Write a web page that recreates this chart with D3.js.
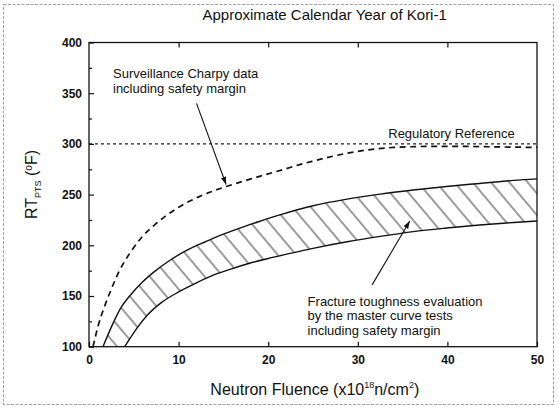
<!DOCTYPE html>
<html>
<head>
<meta charset="utf-8">
<script src="https://cdn.jsdelivr.net/npm/d3@7"></script>
<style>
  body { margin: 0; background: #fff; }
  svg { display: block; font-family: "Liberation Sans", Arial, sans-serif; }
</style>
</head>
<body>
<svg id="chart" width="559" height="410"></svg>
<script>
// values (fluence in 1e18 n/cm2, RT_PTS in F)
var charpyX = [0.45, 1.0, 1.75, 2.5, 3.4, 4.7, 5.8, 7.3, 8.5, 10, 12.3, 14, 15.5, 17.7, 20, 21.8, 23.5, 25, 27.3, 31, 34, 38, 42, 46, 50];
var charpyY = [100, 120, 140, 157, 175, 194, 207, 220, 228.5, 237.5, 248, 254, 258.5, 264.5, 270.5, 275, 279.5, 283, 288, 294, 296.5, 297.5, 297.5, 297, 296.5];

var upperX = [1.56, 2.68, 3.6, 4.54, 6.0, 7.3, 9.0, 11, 13, 15, 17, 19, 21.3, 25, 28.8, 32.5, 36.2, 39.9, 43.6, 47.4, 50];
var upperY = [100, 123, 139, 150, 164, 174, 185, 195.5, 203.5, 211, 217.5, 223.5, 230, 239, 245.5, 250.5, 254.5, 258, 261, 264, 265.5];

var lowerX = [3.98, 5.5, 6.5, 8, 10, 12, 14, 16, 18, 20, 22.2, 25, 28.8, 32.5, 36.2, 39.9, 43.6, 47.4, 50];
var lowerY = [100, 120, 131, 143, 154, 163, 171, 177, 182.5, 187, 191.5, 197, 203.5, 208.8, 213.5, 217, 220, 222.5, 224];

var regulatoryX = [0, 50];
var regulatoryY = [300, 300];

var xTicks = [0, 10, 20, 30, 40, 50];
var topTicks = [10, 20, 30, 40];
var yTicks = [100, 150, 200, 250, 300, 350, 400];
var yMinor = [125, 175, 225, 275, 325, 375];

var svg = d3.select("#chart");

var x = d3.scaleLinear().domain([0, 50]).range([89, 537]);
var y = d3.scaleLinear().domain([100, 400]).range([346.7, 42.5]);

var pts = function(xs, ys) { return xs.map(function(v, i) { return [v, ys[i]]; }); };

var lnMkr = d3.line()
  .curve(d3.curveMonotoneX)
  .x(function(d) { return x(d[0]); })
  .y(function(d) { return y(d[1]); });

// outer frame of the scan
svg.append("rect")
  .attr("x", 3.5).attr("y", 4.5).attr("width", 550).attr("height", 400)
  .attr("fill", "none").attr("stroke", "#888").attr("stroke-width", 0.8)
  .attr("stroke-dasharray", "3,1.5");

var defs = svg.append("defs");
defs.append("pattern")
  .attr("id", "hatch")
  .attr("patternUnits", "userSpaceOnUse")
  .attr("width", 14).attr("height", 14)
  .attr("patternTransform", "rotate(-40)")
  .append("line")
  .attr("x1", 7).attr("y1", -1).attr("x2", 7).attr("y2", 15)
  .attr("stroke", "#222").attr("stroke-width", 0.9);

defs.append("marker")
  .attr("id", "arrow")
  .attr("viewBox", "0 0 10 10")
  .attr("refX", 10).attr("refY", 5)
  .attr("markerWidth", 7).attr("markerHeight", 7)
  .attr("orient", "auto")
  .append("path")
  .attr("d", "M0,1.5L10,5L0,8.5Z")
  .attr("fill", "#111");

// hatched band
var upperPts = pts(upperX, upperY);
var lowerPts = pts(lowerX, lowerY);
var bandD = lnMkr(upperPts) + lnMkr(lowerPts.slice().reverse()).replace(/^M/, "L") + "Z";
svg.append("path").attr("d", bandD).attr("fill", "url(#hatch)").attr("stroke", "none");

svg.append("path").attr("d", lnMkr(upperPts))
  .attr("fill", "none").attr("stroke", "#111").attr("stroke-width", 1.4);
svg.append("path").attr("d", lnMkr(lowerPts))
  .attr("fill", "none").attr("stroke", "#111").attr("stroke-width", 1.4);

// regulatory reference and charpy curve
svg.append("path").attr("d", lnMkr(pts(regulatoryX, regulatoryY)))
  .attr("fill", "none").attr("stroke", "#222").attr("stroke-width", 1.2)
  .attr("stroke-dasharray", "3,3");
svg.append("path").attr("d", lnMkr(pts(charpyX, charpyY)))
  .attr("fill", "none").attr("stroke", "#111").attr("stroke-width", 1.7)
  .attr("stroke-dasharray", "6,4.5");

// axes, ticks pointing inward
var axFont = function(g) {
  g.select(".domain").remove();
  g.selectAll("line").attr("stroke", "#111").attr("stroke-width", 1.2);
  g.selectAll("text").attr("fill", "#111").attr("font-size", "12px")
    .attr("font-weight", "bold").attr("font-family", "Liberation Sans, Arial, sans-serif");
};

svg.append("g").attr("transform", "translate(" + x(0) + ",0)")
  .call(d3.axisLeft(y).tickValues(yTicks).tickSize(-5).tickPadding(7))
  .call(axFont);
svg.append("g").attr("transform", "translate(" + x(0) + ",0)")
  .call(d3.axisLeft(y).tickValues(yMinor).tickSize(-3).tickFormat(""))
  .call(axFont);
svg.append("g").attr("transform", "translate(0," + y(100) + ")")
  .call(d3.axisBottom(x).tickValues(xTicks).tickSize(-5).tickPadding(9))
  .call(axFont);
svg.append("g").attr("transform", "translate(0," + y(400) + ")")
  .call(d3.axisTop(x).tickValues(topTicks).tickSize(-5).tickFormat(""))
  .call(axFont);

// plot box
svg.append("rect")
  .attr("x", x(0)).attr("y", y(400))
  .attr("width", x(50) - x(0)).attr("height", y(100) - y(400))
  .attr("fill", "none").attr("stroke", "#111").attr("stroke-width", 1.3);

// arrows
svg.append("path").attr("d", lnMkr([[12.0, 340], [15.3, 260]]))
  .attr("stroke", "#111").attr("stroke-width", 1.1).attr("marker-end", "url(#arrow)");
svg.append("path").attr("d", lnMkr([[31.6, 161], [35.8, 224]]))
  .attr("stroke", "#111").attr("stroke-width", 1.1).attr("marker-end", "url(#arrow)");

// texts
var txt = function(fx, fy, s, size, anchor) {
  return svg.append("text").attr("x", x(fx)).attr("y", y(fy))
    .attr("font-size", size).attr("fill", "#111")
    .attr("text-anchor", anchor || "start").text(s);
};

txt(26.3, 422, "Approximate Calendar Year of Kori-1", "15px", "middle");
txt(2.68, 365, "Surveillance Charpy data", "13px");
txt(2.68, 350, "including safety margin", "13px");
txt(33.4, 305.5, "Regulatory Reference", "13px");
txt(24.4, 140.5, "Fracture toughness evaluation", "13px");
txt(24.4, 126, "by the master curve tests", "13px");
txt(24.4, 111.5, "including safety margin", "13px");

var yl = svg.append("text")
  .attr("transform", "translate(37," + y(260) + ") rotate(-90)")
  .attr("text-anchor", "middle").attr("font-size", "16px").attr("fill", "#111");
yl.append("tspan").text("RT");
yl.append("tspan").attr("font-size", "9px").attr("dy", 4).text("PTS");
yl.append("tspan").attr("dy", -4).text(" (");
yl.append("tspan").attr("font-size", "10px").attr("dy", -5).text("o");
yl.append("tspan").attr("dy", 5).text("F)");

var xl = svg.append("text")
  .attr("x", x(25.2)).attr("y", 395)
  .attr("text-anchor", "middle").attr("font-size", "16px").attr("fill", "#111");
xl.append("tspan").text("Neutron Fluence (x10");
xl.append("tspan").attr("font-size", "9px").attr("dy", -7).text("18");
xl.append("tspan").attr("dy", 7).text("n/cm");
xl.append("tspan").attr("font-size", "9px").attr("dy", -7).text("2");
xl.append("tspan").attr("dy", 7).text(")");
</script>
</body>
</html>
